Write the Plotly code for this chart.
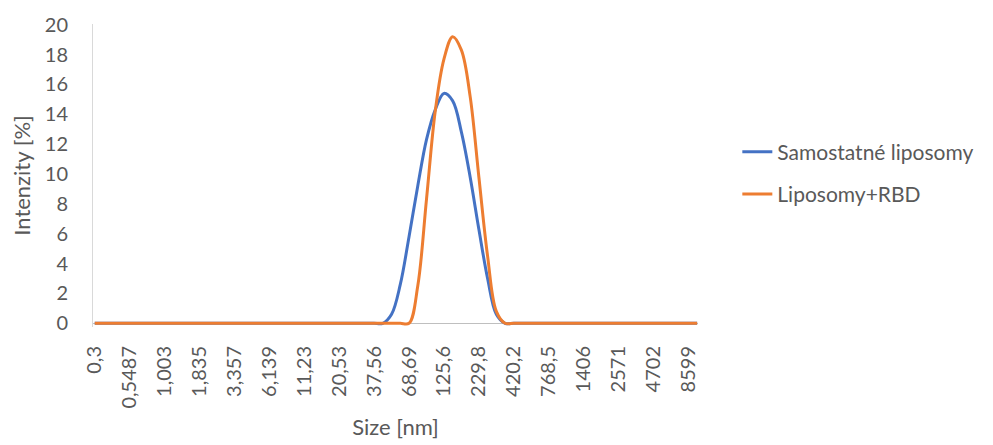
import plotly.graph_objects as go

# DLS size classes [nm] (category axis, Czech decimal comma)
sizes = ["0,3", "0,3489", "0,4057", "0,4718", "0,5487", "0,6381", "0,742", "0,8629",
         "1,003", "1,167", "1,357", "1,578", "1,835", "2,134", "2,481", "2,885",
         "3,357", "3,903", "4,539", "5,279", "6,139", "7,139", "8,302", "9,655",
         "11,23", "13,06", "15,19", "17,66", "20,53", "23,88", "27,76", "32,29",
         "37,56", "43,67", "50,75", "59,07", "68,69", "79,88", "92,89", "108,1",
         "125,6", "146,1", "169,9", "197,6", "229,8", "267,2", "310,8", "361,4",
         "420,2", "488,7", "568,4", "661", "768,5", "893,8", "1040", "1209",
         "1406", "1635", "1901", "2211", "2571", "2990", "3476", "4043",
         "4702", "5468", "6358", "7394", "8599", "10000"]

# every 4th class is labelled on the axis
tick_labels = ["0,3", "0,5487", "1,003", "1,835", "3,357", "6,139", "11,23", "20,53",
               "37,56", "68,69", "125,6", "229,8", "420,2", "768,5", "1406", "2571",
               "4702", "8599"]

samostatne = [0, 0, 0, 0, 0, 0, 0, 0, 0, 0,
              0, 0, 0, 0, 0, 0, 0, 0, 0, 0,
              0, 0, 0, 0, 0, 0, 0, 0, 0, 0,
              0, 0, 0, 0, 0.6, 2.6, 5.8, 9.2, 12.3, 14.3,
              15.4, 14.9, 12.8, 9.8, 6.3, 3.0, 0.6, 0, 0, 0,
              0, 0, 0, 0, 0, 0, 0, 0, 0, 0,
              0, 0, 0, 0, 0, 0, 0, 0, 0, 0]

liposomy_rbd = [0, 0, 0, 0, 0, 0, 0, 0, 0, 0,
                0, 0, 0, 0, 0, 0, 0, 0, 0, 0,
                0, 0, 0, 0, 0, 0, 0, 0, 0, 0,
                0, 0, 0, 0, 0, 0, 0, 2.5, 8.3, 14.2,
                17.7, 19.2, 18.3, 15.2, 9.8, 4.5, 0.8, 0, 0, 0,
                0, 0, 0, 0, 0, 0, 0, 0, 0, 0,
                0, 0, 0, 0, 0, 0, 0, 0, 0, 0]

FONT = "Lato"
GREY = "#595959"

fig = go.Figure()

fig.add_trace(go.Scatter(
    x=sizes, y=samostatne, name="Samostatné liposomy",
    mode="lines", line=dict(color="#4472C4", width=3, shape="spline", smoothing=1.0),
    legendgroup="a"
))
fig.add_trace(go.Scatter(
    x=sizes, y=liposomy_rbd, name="Liposomy+RBD",
    mode="lines", line=dict(color="#ED7D31", width=3, shape="spline", smoothing=1.0),
    legendgroup="b"
))

# page body adds an 8px margin, so the figure is a bit smaller than the window
fig.update_layout(
    width=985, height=437,
    margin=dict(l=85, r=295, t=16, b=118),
    paper_bgcolor="white",
    plot_bgcolor="white",
    font=dict(family=FONT, size=20, color=GREY),
    showlegend=True,
    legend=dict(
        x=1.065, y=0.645, xanchor="left", yanchor="top",
        font=dict(family=FONT, size=21, color=GREY),
        tracegroupgap=12,
        bgcolor="rgba(0,0,0,0)"
    )
)

fig.update_xaxes(
    type="category",
    range=[-0.2, 69.1],
    tickmode="array",
    tickvals=tick_labels,
    ticktext=tick_labels,
    tickangle=-90,
    ticks="",
    ticklabelstandoff=14,
    showgrid=False,
    showline=False,
    zeroline=False,
    automargin=False,
    tickfont=dict(family=FONT, size=20, color=GREY),
    title=dict(text="Size [nm]", font=dict(family=FONT, size=22, color=GREY), standoff=12)
)

fig.update_yaxes(
    range=[-0.25, 20.05],
    tickmode="linear", tick0=0, dtick=2,
    ticks="",
    ticklabelstandoff=20,
    showgrid=False,
    showline=True, linecolor="#D9D9D9", linewidth=1,
    zeroline=True, zerolinecolor="#BFBFBF", zerolinewidth=1,
    automargin=False,
    tickfont=dict(family=FONT, size=20, color=GREY),
    title=dict(text="Intenzity [%]", font=dict(family=FONT, size=22, color=GREY), standoff=16)
)

fig.write_html("out.html")
